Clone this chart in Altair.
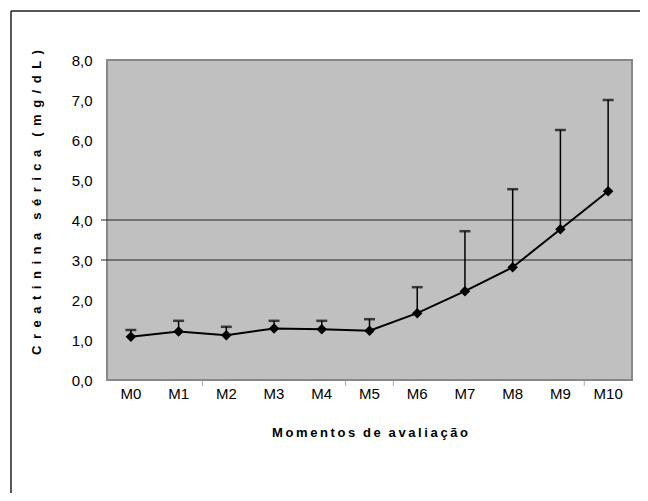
import altair as alt
import pandas as pd

categories = ["M0", "M1", "M2", "M3", "M4", "M5", "M6", "M7", "M8", "M9", "M10"]
means = [1.08, 1.21, 1.12, 1.29, 1.27, 1.23, 1.67, 2.22, 2.82, 3.77, 4.72]
uppers = [1.25, 1.48, 1.33, 1.48, 1.48, 1.52, 2.32, 3.72, 4.77, 6.25, 7.00]
ref_lines = [3.0, 4.0]
x_tick_cats = ["M2", "M5", "M6", "M10"]

df = pd.DataFrame({"cat": categories, "mean": means, "upper": uppers})
ref_df = pd.DataFrame({"v": ref_lines})
tick_df = pd.DataFrame({"cat": x_tick_cats})

W, H = 525, 320
FONT_LBL = "Liberation Sans Narrow, Arial Narrow, Liberation Sans, Arial"
FONT_T = "Liberation Sans, Arial"
EN = "\u2002"
TH = "\u2009"

def spaced(s, gap, wordgap):
    words = s.split(" ")
    return wordgap.join(gap.join(list(w)) for w in words)

xscale = alt.Scale(domain=categories, paddingInner=0, paddingOuter=0)
yscale = alt.Scale(domain=[0, 8], nice=False)

xax = alt.Axis(title=spaced("Momentos de avaliação", TH, TH * 3), labelAngle=0, ticks=False, domain=False,
               labelFont=FONT_LBL, labelFontSize=15, labelColor="#000", labelPadding=6,
               titleFont=FONT_T, titleFontSize=13, titleFontWeight="bold", titleColor="#000",
               titlePadding=25)
yax = alt.Axis(title=spaced("Creatinina sérica (mg/dL)", EN, EN * 2), values=[0, 1, 2, 3, 4, 5, 6, 7, 8],
               labelExpr="replace(format(datum.value, '.1f'), '.', ',')",
               ticks=False, domain=False, grid=False,
               labelFont=FONT_LBL, labelFontSize=15, labelColor="#000", labelPadding=15,
               titleFont=FONT_T, titleFontSize=13, titleFontWeight="bold", titleColor="#000",
               titleX=-64, titleY=142, titleAlign="center", titleAngle=270, titleBaseline="bottom")

base = alt.Chart(df)

refs = alt.Chart(ref_df).mark_rule(color="#222", strokeWidth=1).encode(
    y=alt.Y("v:Q", scale=yscale, axis=yax), x=alt.value(-6), x2=alt.value(W))

xticks = alt.Chart(tick_df).mark_rule(color="#aaa", strokeWidth=1).encode(
    x=alt.X("cat:N", scale=xscale, bandPosition=0, axis=xax, sort=categories),
    y=alt.value(H + 1), y2=alt.value(H + 6))

err = base.mark_rule(color="#000", strokeWidth=1.5).encode(
    x=alt.X("cat:N", scale=xscale, sort=categories, axis=xax),
    y=alt.Y("mean:Q", scale=yscale, axis=yax), y2="upper:Q")

caps = base.mark_tick(color="#000", size=11, thickness=2.5).encode(
    x=alt.X("cat:N", scale=xscale, sort=categories, axis=xax),
    y=alt.Y("upper:Q", scale=yscale, axis=yax))

line = base.mark_line(color="#000", strokeWidth=2).encode(
    x=alt.X("cat:N", scale=xscale, sort=categories, axis=xax),
    y=alt.Y("mean:Q", scale=yscale, axis=yax))

pts = base.mark_point(shape="diamond", filled=True, color="#000", opacity=1, size=110).encode(
    x=alt.X("cat:N", scale=xscale, sort=categories, axis=xax),
    y=alt.Y("mean:Q", scale=yscale, axis=yax))

border_left = alt.Chart(ref_df.head(1)).mark_rule(color="#222", strokeWidth=1.5).encode(
    x=alt.value(-96), y=alt.value(-49), y2=alt.value(460))
border_top = alt.Chart(ref_df.head(1)).mark_rule(color="#222", strokeWidth=1.5).encode(
    x=alt.value(-96), x2=alt.value(560), y=alt.value(-49))

chart = alt.layer(refs, xticks, err, caps, line, pts, border_left, border_top).properties(
    width=W, height=H,
    autosize=alt.AutoSizeParams(type="none"),
    padding={"left": 99, "top": 52, "right": 8, "bottom": 113},
).configure(
    background="white",
    view=alt.ViewConfig(fill="#c0c0c0", stroke="#888888", strokeWidth=2),
)

chart.save("out.html", embed_options={"renderer": "svg", "actions": False})
